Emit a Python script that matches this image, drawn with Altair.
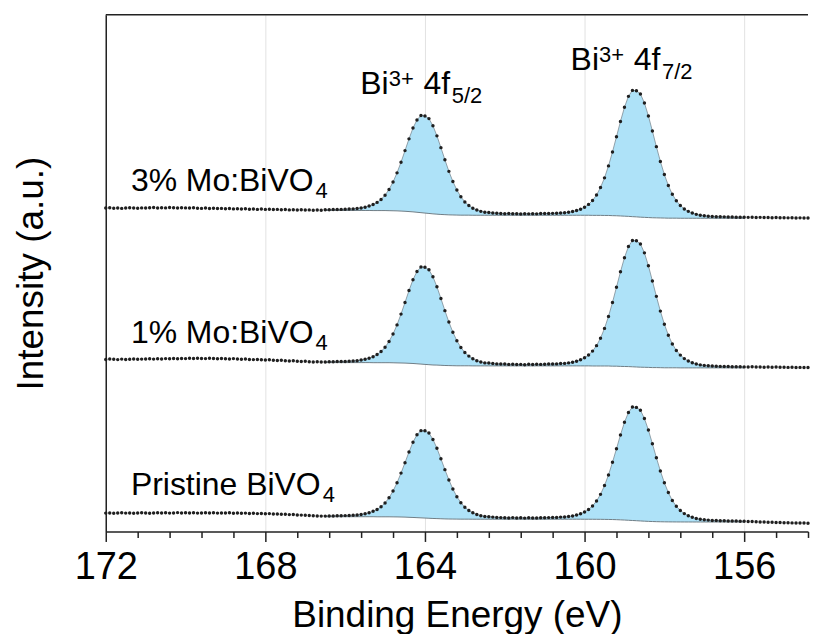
import altair as alt
import pandas as pd

# ---------------- data ----------------
E_START, E_STEP, N_POINTS = 172.0, 0.1, 177          # 172.0 ... 154.4 eV
energy = [round(E_START - E_STEP * i, 1) for i in range(N_POINTS)]

samples = ["3% Mo:BiVO4", "1% Mo:BiVO4", "Pristine BiVO4"]

mo3 = [
    324.2, 324.5, 324.1, 324.3, 323.9, 324.2, 324.6, 324.3, 324.0, 324.4,
    324.2, 324.5, 324.7, 324.3, 324.6, 324.4, 324.8, 324.5, 324.3, 324.6,
    324.4, 324.2, 324.5, 324.1, 323.9, 324.2, 323.8, 324.0, 323.7, 323.9,
    323.6, 323.8, 323.4, 323.6, 323.2, 323.5, 323.1, 323.3, 322.9, 323.2,
    322.9, 323.1, 322.7, 322.9, 322.5, 322.8, 322.4, 322.6, 322.3, 322.5,
    322.2, 322.4, 322.1, 322.3, 322.0, 322.5, 322.6, 322.7, 322.8, 322.9,
    323.0, 323.2, 323.4, 323.7, 324.3, 325.1, 326.2, 327.7, 329.9, 332.9,
    337.1, 342.9, 350.3, 359.5, 370.2, 381.8, 393.6, 404.4, 412.6, 417.0,
    416.6, 413.9, 406.7, 396.6, 384.8, 372.6, 361.0, 350.8, 342.3, 335.5,
    330.4, 326.8, 324.1, 322.2, 320.9, 320.0, 319.8, 319.3, 319.0, 318.8,
    318.6, 318.8, 318.5, 318.6, 318.3, 318.5, 318.4, 318.6, 318.4, 318.7,
    318.7, 318.8, 318.9, 319.0, 319.3, 319.5, 320.0, 320.7, 321.7, 323.1,
    325.1, 327.9, 331.8, 337.3, 344.8, 354.5, 366.5, 380.5, 395.7, 411.1,
    425.2, 436.2, 442.2, 441.9, 438.6, 429.6, 416.6, 401.4, 385.8, 371.0,
    357.8, 346.8, 338.0, 331.5, 326.8, 323.3, 320.9, 319.2, 317.9, 317.0,
    316.5, 316.1, 315.8, 315.6, 315.5, 315.4, 315.3, 315.2, 315.1, 315.1,
    315.0, 314.9, 315.0, 314.8, 314.9, 314.7, 314.8, 314.6, 314.7, 314.5,
    314.6, 314.4, 314.5, 314.3, 314.4, 314.2, 314.3,
]

mo1 = [
    172.5, 172.9, 172.6, 172.3, 172.8, 172.5, 172.7, 173.0, 172.6, 172.8,
    172.9, 173.1, 172.8, 173.2, 173.0, 173.3, 173.1, 173.4, 173.2, 173.5,
    173.3, 173.6, 173.4, 173.7, 173.5, 173.3, 173.6, 173.4, 173.2, 173.5,
    173.2, 173.0, 173.3, 172.9, 172.7, 172.9, 172.5, 172.3, 172.5, 172.1,
    171.9, 172.1, 171.7, 171.5, 171.6, 171.2, 171.0, 171.1, 170.7, 170.5,
    170.6, 170.2, 170.0, 170.1, 169.8, 170.0, 170.1, 170.2, 170.3, 170.4,
    170.5, 170.7, 170.9, 171.2, 171.8, 172.6, 173.7, 175.2, 177.4, 180.4,
    184.6, 190.5, 197.9, 207.1, 217.9, 229.6, 241.5, 252.4, 260.7, 265.2,
    264.9, 262.3, 255.3, 245.3, 233.6, 221.4, 209.9, 199.7, 191.2, 184.5,
    179.4, 175.8, 173.1, 171.2, 169.9, 169.0, 168.8, 168.3, 168.0, 167.8,
    167.8, 167.5, 167.7, 167.3, 167.5, 167.2, 167.6, 167.4, 167.6, 167.5,
    167.7, 167.8, 167.9, 168.0, 168.3, 168.5, 169.0, 169.7, 170.7, 172.1,
    174.1, 176.9, 180.8, 186.3, 193.8, 203.6, 215.6, 229.6, 244.9, 260.3,
    274.5, 285.6, 291.7, 291.4, 288.2, 279.3, 266.4, 251.2, 235.7, 220.9,
    207.8, 196.8, 188.0, 181.5, 176.8, 173.3, 170.9, 169.2, 167.9, 167.0,
    166.5, 166.1, 165.8, 165.6, 165.5, 165.4, 165.3, 165.2, 165.1, 165.1,
    165.0, 164.9, 165.1, 164.8, 164.9, 164.7, 164.9, 164.6, 164.8, 164.6,
    164.7, 164.5, 164.6, 164.4, 164.5, 164.3, 164.4,
]

pristine = [
    18.4, 18.6, 18.3, 18.5, 18.7, 18.4, 18.6, 18.2, 18.5, 18.7,
    18.5, 18.3, 18.6, 18.8, 18.5, 18.7, 18.4, 18.6, 18.9, 18.6,
    18.8, 18.5, 18.7, 18.4, 18.6, 18.8, 18.5, 18.7, 18.4, 18.6,
    18.5, 18.7, 18.3, 18.5, 18.2, 18.4, 18.1, 18.3, 17.9, 18.1,
    17.8, 17.9, 17.5, 17.6, 17.2, 17.3, 16.9, 17.0, 16.6, 16.4,
    16.2, 16.0, 15.7, 15.6, 15.4, 15.4, 15.5, 15.6, 15.7, 15.8,
    15.9, 16.1, 16.2, 16.5, 17.0, 17.8, 18.7, 20.2, 22.1, 24.8,
    28.6, 33.8, 40.5, 48.8, 58.5, 69.0, 79.7, 89.5, 97.0, 101.1,
    100.9, 98.7, 92.3, 83.4, 72.9, 62.0, 51.7, 42.5, 34.9, 28.9,
    24.3, 21.1, 18.7, 17.0, 15.8, 15.0, 14.8, 14.4, 14.1, 13.9,
    13.8, 13.6, 13.9, 13.5, 13.7, 13.4, 13.7, 13.5, 13.6, 13.8,
    13.8, 13.9, 14.0, 14.1, 14.4, 14.5, 15.0, 15.6, 16.5, 17.8,
    19.5, 22.1, 25.6, 30.5, 37.2, 46.0, 56.7, 69.3, 82.9, 96.8,
    109.4, 119.3, 124.7, 124.4, 121.5, 113.3, 101.7, 88.0, 74.0, 60.7,
    48.8, 39.0, 31.0, 25.2, 21.0, 17.9, 15.7, 14.2, 13.0, 12.2,
    11.8, 11.4, 11.1, 10.9, 10.8, 10.7, 10.6, 10.5, 10.4, 10.3,
    10.2, 10.1, 9.9, 9.8, 9.6, 9.5, 9.3, 9.2, 9.0, 8.9,
    8.8, 8.7, 8.6, 8.5, 8.4, 8.4, 8.3,
]

# Shirley-type background under the fitted peaks, 166.5 ... 156.0 eV
FIT_FROM, FIT_TO = 166.5, 156.0
bg_mo3 = (
    [321.8] * 5
    + [321.8] * 7 + [321.7] * 3
    + [321.7, 321.6, 321.5, 321.4, 321.2, 321.0, 320.7, 320.4, 320.0, 319.6]
    + [319.2, 318.8, 318.4, 318.1, 317.8, 317.6, 317.4, 317.3, 317.2, 317.1]
    + [317.1, 317.1] + [317.0] * 8
    + [317.0] * 20
    + [317.0, 317.0, 316.9, 316.9, 316.9, 316.8, 316.8, 316.6, 316.5, 316.3]
    + [316.1, 315.9, 315.6, 315.4, 315.1, 314.9, 314.7, 314.5, 314.4, 314.3]
    + [314.2, 314.1, 314.1, 314.1] + [314.0] * 6
    + [314.0] * 11
)
bg_mo1 = (
    [169.3] * 5
    + [169.3] * 7 + [169.2] * 3
    + [169.2, 169.2, 169.1, 169.0, 168.9, 168.8, 168.6, 168.4, 168.1, 167.8]
    + [167.5, 167.2, 166.9, 166.8, 166.6, 166.4, 166.3, 166.2, 166.1, 166.1]
    + [166.1, 166.1] + [166.0] * 8
    + [166.0] * 20
    + [166.0, 166.0, 165.9, 165.9, 165.9, 165.9, 165.9, 165.7, 165.7, 165.5]
    + [165.4, 165.3, 165.1, 164.9, 164.7, 164.6, 164.5, 164.3, 164.3, 164.2]
    + [164.1, 164.1, 164.1, 164.1] + [164.0] * 6
    + [164.0] * 11
)
bg_pristine = (
    [14.8] * 5
    + [14.8] * 8 + [14.7] * 2
    + [14.7, 14.7, 14.65, 14.6, 14.5, 14.4, 14.2, 14.05, 13.85, 13.65]
    + [13.45, 13.25, 13.05, 12.9, 12.75, 12.6, 12.5, 12.45, 12.4, 12.35]
    + [12.35, 12.35] + [12.3] * 8
    + [12.3] * 20
    + [12.27, 12.26, 12.24, 12.22, 12.19, 12.13, 12.06, 11.96, 11.82, 11.66]
    + [11.46, 11.24, 11.01, 10.79, 10.56, 10.34, 10.14, 9.98, 9.84, 9.74]
    + [9.67, 9.61, 9.58, 9.56, 9.54, 9.53, 9.52, 9.51, 9.51, 9.5]
    + [9.5] * 11
)

spectra = [mo3, mo1, pristine]
backgrounds = [bg_mo3, bg_mo1, bg_pristine]

# annotations: (main text, subscript) with left anchor energy and baseline intensity
sample_label_text = ["3% Mo:BiVO", "1% Mo:BiVO", "Pristine BiVO"]
sample_label_sub = ["4", "4", "4"]
sample_label_energy = 171.37
sample_label_level = [341.7, 189.3, 36.7]

peak_label_orbital = ["5/2", "7/2"]
peak_label_energy = [165.62, 160.35]
peak_label_level = [438.3, 462.7]

x_minor_step = 0.8

# ---------------- layout / style ----------------
E_MIN, E_MAX = 154.4, 172.0
W, H = 704, 518
Y_MAX = 518.0
FONT = "Liberation Sans"
F_MAIN, F_SMALL = 32, 22
INK = "#1f1f1f"
FILL = "#AEE2F8"

for s in spectra:
    assert len(s) == N_POINTS
i0 = energy.index(FIT_FROM)
i1 = energy.index(FIT_TO)
for b in backgrounds:
    assert len(b) == i1 - i0 + 1

rows, fit_rows = [], []
for name, s, b in zip(samples, spectra, backgrounds):
    for e, v in zip(energy, s):
        rows.append({"energy": e, "intensity": v, "sample": name})
    for k, idx in enumerate(range(i0, i1 + 1)):
        fit_rows.append({"energy": energy[idx], "intensity": s[idx], "bg": b[k], "sample": name})
df = pd.DataFrame(rows)
df_fit = pd.DataFrame(fit_rows)

# text pieces (super/subscripts placed next to main text)
ARIAL_W = {" ": 0.278, "%": 0.889, "+": 0.584, "/": 0.278, ":": 0.278, "B": 0.667,
           "M": 0.833, "O": 0.778, "P": 0.667, "V": 0.667, "e": 0.556, "f": 0.278,
           "i": 0.222, "n": 0.556, "o": 0.556, "r": 0.333, "s": 0.5, "t": 0.278}


def text_w(s, fs):
    return sum(ARIAL_W.get(c, 0.556) for c in s) * fs


px_per_e = W / (E_MAX - E_MIN)
u_per_px = Y_MAX / H


def piece(e0, h0, dx, dy, text, fs):
    return {"energy": e0 - dx / px_per_e, "intensity": h0 - dy * u_per_px, "text": text, "fs": fs}


pieces = []
for txt, sub, lvl in zip(sample_label_text, sample_label_sub, sample_label_level):
    pieces.append(piece(sample_label_energy, lvl, 0, 0, txt, F_MAIN))
    pieces.append(piece(sample_label_energy, lvl, text_w(txt, F_MAIN) + 2, 7.4, sub, F_SMALL))
for orb, e0, lvl in zip(peak_label_orbital, peak_label_energy, peak_label_level):
    d1 = text_w("Bi", F_MAIN)
    d2 = d1 + text_w("3+", F_SMALL) + text_w(" ", F_MAIN) + 1.0
    d3 = d2 + text_w("4f", F_MAIN) + 1.5
    pieces.append(piece(e0, lvl, 0, 0, "Bi", F_MAIN))
    pieces.append(piece(e0, lvl, d1, -8.0, "3+", F_SMALL))
    pieces.append(piece(e0, lvl, d2, 0, "4f", F_MAIN))
    pieces.append(piece(e0, lvl, d3, 9.0, orb, F_SMALL))
df_text = pd.DataFrame(pieces)

# ---------------- axes ----------------
n_ticks = int(round((E_MAX - E_MIN) / x_minor_step)) + 1
tick_values = [round(E_MAX - x_minor_step * k, 1) for k in range(n_ticks)]
major_test = "abs(datum.value / 4 - round(datum.value / 4)) < 0.001"

x_axis = alt.Axis(
    title="Binding Energy (eV)",
    values=tick_values,
    labelExpr=f"{major_test} ? format(datum.value, 'd') : ''",
    tickSize={"condition": {"test": major_test, "value": 10}, "value": 6},
    tickColor="#222", tickWidth=1.5,
    domainColor="#222", domainWidth=1.5,
    grid=True, gridColor="#e2e2e2", gridWidth=1,
    gridOpacity={"condition": {"test": major_test, "value": 1}, "value": 0},
    labelFontSize=38, labelColor="#000", labelFont=FONT,
    labelPadding=7, labelOverlap=False, labelFlush=False,
    titleFontSize=37, titleFontWeight="normal", titleColor="#000", titleFont=FONT,
    titlePadding=11,
)
y_axis = alt.Axis(
    title="Intensity (a.u.)", labels=False, ticks=False, grid=False,
    domainColor="#222", domainWidth=1.5,
    titleFontSize=37, titleFontWeight="normal", titleColor="#000", titleFont=FONT,
    titlePadding=55,
)

x_scale = alt.Scale(domain=[E_MIN, E_MAX], reverse=True, nice=False, zero=False)
y_scale = alt.Scale(domain=[0, Y_MAX], nice=False, zero=False)
X = alt.X("energy:Q", scale=x_scale, axis=x_axis)
Y = alt.Y("intensity:Q", scale=y_scale, axis=y_axis)

fill = alt.Chart(df_fit).mark_area(color=FILL, opacity=1).encode(
    x=X, y=Y, y2=alt.Y2("bg:Q"), detail="sample:N")
bg_line = alt.Chart(df_fit).mark_line(color="#6f7d86", strokeWidth=1).encode(
    x=X, y=alt.Y("bg:Q", scale=y_scale, axis=y_axis), detail="sample:N")
fit_line = alt.Chart(df_fit).mark_line(color="#7c8b94", strokeWidth=0.8).encode(
    x=X, y=Y, detail="sample:N")
dots = alt.Chart(df).mark_circle(size=12, color=INK, opacity=1).encode(
    x=X, y=Y, detail="sample:N")
labels = alt.Chart(df_text).mark_text(align="left", baseline="alphabetic", color="#000", font=FONT).encode(
    x=X, y=Y, text="text:N", size=alt.Size("fs:Q", scale=None, legend=None))
top_rule = alt.Chart(pd.DataFrame({"k": [0]})).mark_rule(color="#222", strokeWidth=1.5).encode(
    x=alt.value(0), x2=alt.value(W), y=alt.value(0))

chart = (
    alt.layer(fill, bg_line, fit_line, dots, labels, top_rule)
    .properties(width=W, height=H, padding={"left": 5, "top": 5, "right": 0, "bottom": 0})
    .configure(font=FONT)
    .configure_view(stroke=None)
)

chart.save("out.html", embed_options={"renderer": "svg", "actions": False})
